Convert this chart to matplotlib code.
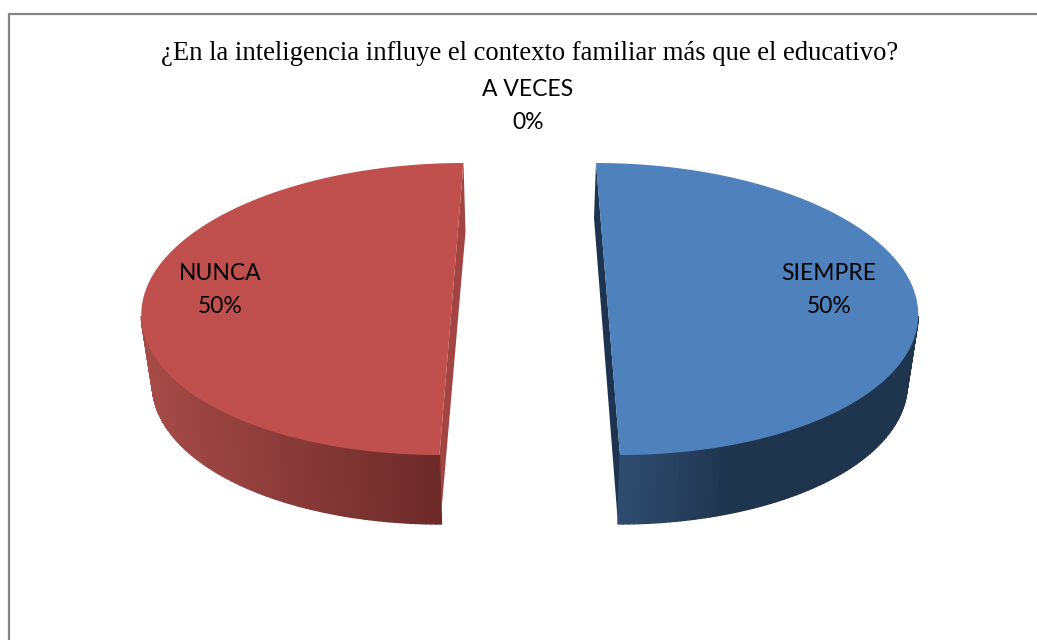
import matplotlib
matplotlib.use('Agg')
import matplotlib.pyplot as plt
from matplotlib.collections import PolyCollection
from matplotlib.colors import to_rgb
import numpy as np

title = '¿En la inteligencia influye el contexto familiar más que el educativo?'
categories = ['SIEMPRE', 'A VECES', 'NUNCA']
values = [50, 0, 50]

top_colors = ['#4f81bd', '#9bbb59', '#c0504d']
wall_colors = ['#1d3350', '#5f7530', '#a24442']
# side shading, from the inner edge to the outer edge of each slice
side_inner = ['#2f4d70', '#5f7530', '#6c2a29']
side_outer = ['#1f344d', '#5f7530', '#a84c49']
side_reach = [110, 1, 300]

label_x = [829, 528, 220]
label_y = [290, 106, 290]

W, H = 1037, 640
fig = plt.figure(figsize=(W / 100, H / 100), dpi=100)
ax = fig.add_axes([0, 0, 1, 1])
ax.set_xlim(0, W)
ax.set_ylim(H, 0)
ax.axis('off')

# pie layout in pixels
cx, cy = 529.75, 309
rx, ry = 310, 146
lean = 12
explode = 78.25
bottom_explode = 76.25
bottom_rx, bottom_ry, bottom_dy = 301, 146, 69


def rim(phi, mid, dx, radius_x, radius_y, dy=0):
    # phi in degrees, counter clockwise from the right
    side = np.cos(np.radians(mid))
    p = np.radians(phi)
    x = cx + dx * side + radius_x * np.cos(p) - lean * np.sin(p) * side
    y = cy + dy - radius_y * np.sin(p)
    return x, y


shares = 360 * np.array(values) / sum(values)
start = 90.0
for i in range(len(values)):
    if values[i] == 0:
        start -= shares[i]
        continue
    a1, a2 = start, start - shares[i]
    mid = (a1 + a2) / 2
    phis = np.linspace(a1, a2, 181)

    # inner wall sliver
    xt, yt = rim(phis, mid, explode, rx, ry)
    xb, yb = rim(phis, mid, bottom_explode, bottom_rx, bottom_ry, bottom_dy)
    wall = [(xt[0], yt[0]), (xb[0], yb[0] - 14), (xb[-1], yb[-1]), (xt[-1], yt[-1])]
    ax.fill(*zip(*wall), color=wall_colors[i], lw=0, zorder=2)

    # outer side, only the part that faces the viewer
    front = np.sin(np.radians(phis)) <= -0.05
    xt2, yt2, xb2, yb2 = xt[front], yt[front], xb[front], yb[front]
    inner_edge = xb2[np.argmax(yb2)]
    quads, cols = [], []
    c0, c1 = np.array(to_rgb(side_inner[i])), np.array(to_rgb(side_outer[i]))
    for j in range(len(xt2) - 1):
        quads.append([(xt2[j], yt2[j]), (xt2[j + 1], yt2[j + 1]),
                      (xb2[j + 1], yb2[j + 1]), (xb2[j], yb2[j])])
        t = min(abs((xb2[j] + xb2[j + 1]) / 2 - inner_edge) / side_reach[i], 1)
        cols.append(c0 + (c1 - c0) * t)
    ax.add_collection(PolyCollection(quads, facecolors=cols, edgecolors=cols,
                                     linewidths=1.0, zorder=3))

    # top face
    ax.fill(xt, yt, color=top_colors[i], lw=0, zorder=4)
    start = a2

for i in range(len(categories)):
    ax.text(label_x[i], label_y[i], f'{categories[i]}\n{values[i]}%', ha='center',
            va='center', fontsize=16.5, family='Lato', color='black',
            linespacing=1.68, zorder=5)

ax.text(529.5, 53, title, ha='center', va='center', fontsize=19.2,
        family='Liberation Serif', color='black')

# chart frame, only the left and top edges are inside the picture
ax.plot([9, 9, W], [H, 14, 14], color='#868686', lw=1.6, solid_joinstyle='miter')

fig.savefig('out.png', dpi=100)
